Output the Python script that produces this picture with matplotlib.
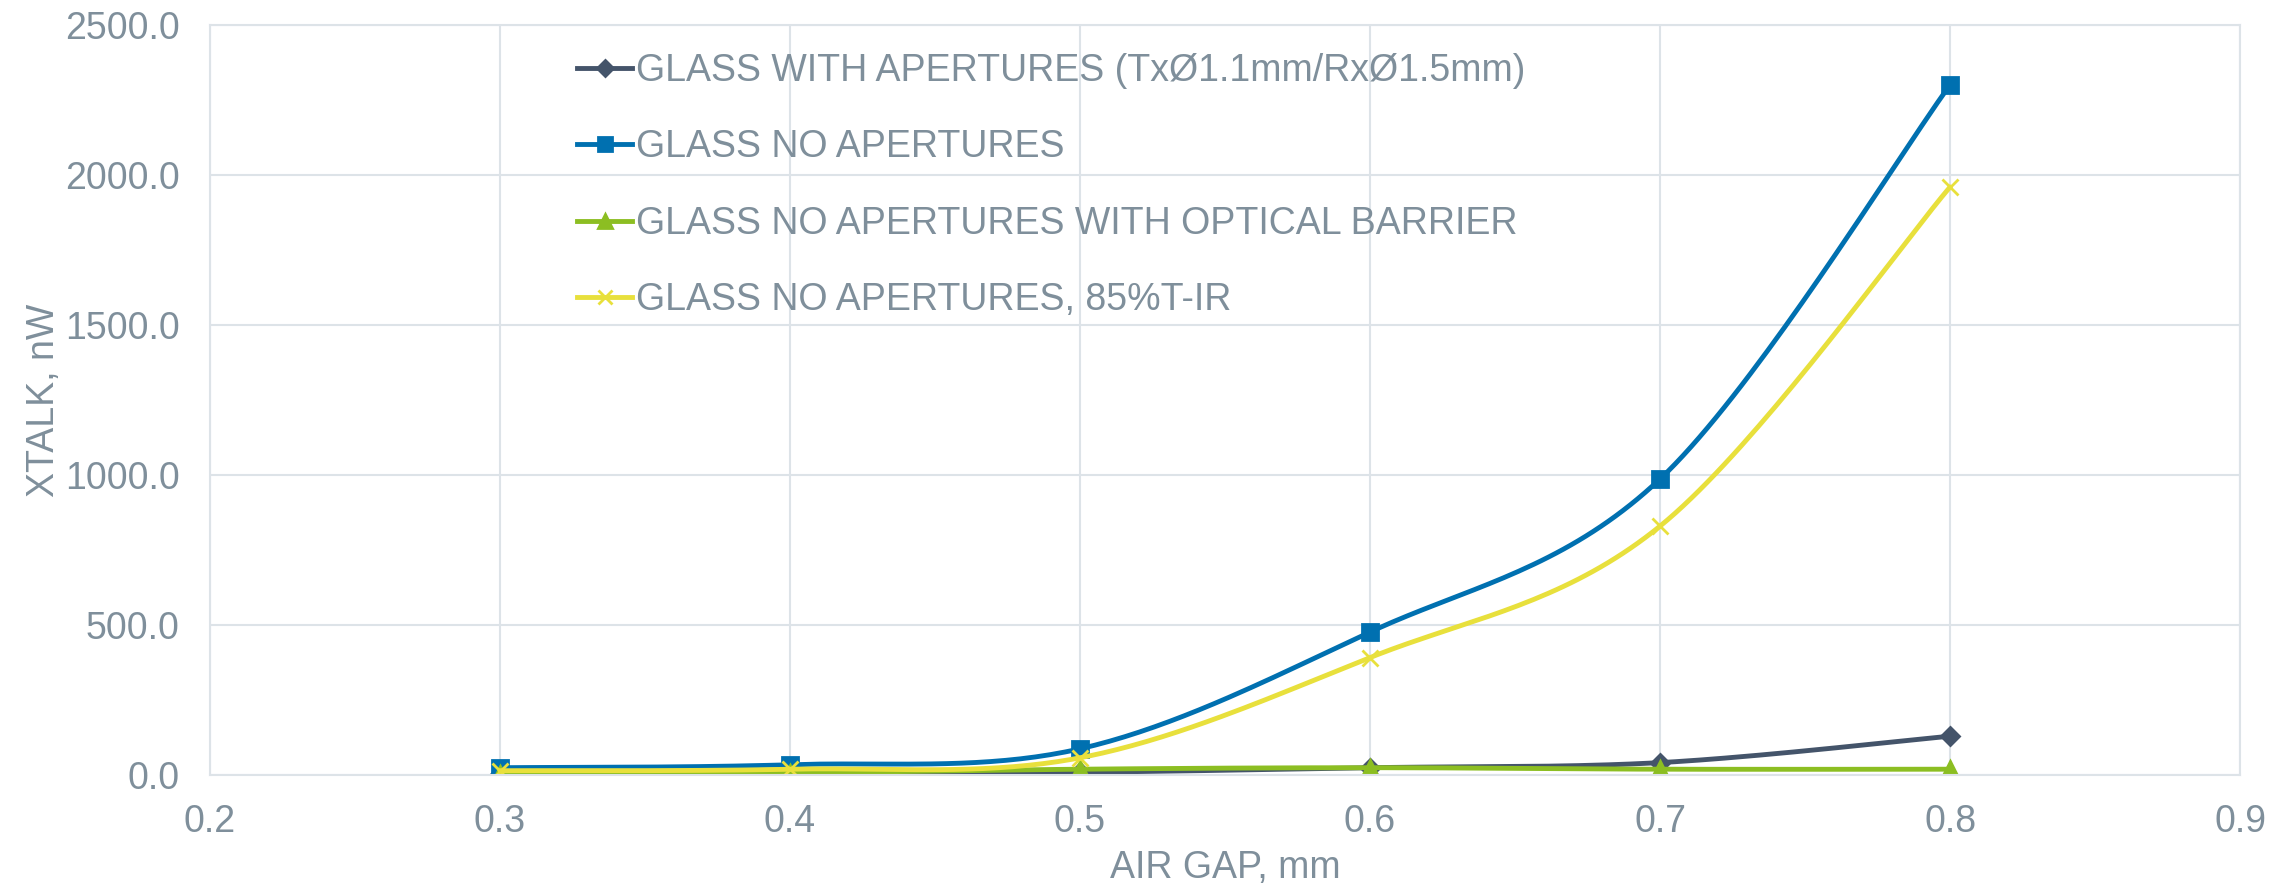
import numpy as np
import matplotlib.pyplot as plt

plt.rcParams["font.family"] = ["Liberation Sans", "DejaVu Sans"]

air_gap = [0.3, 0.4, 0.5, 0.6, 0.7, 0.8]
with_apertures = [5, 8, 10, 25, 42, 130]
no_apertures = [25, 35, 88, 477, 987, 2300]
optical_barrier = [5, 8, 20, 25, 20, 20]
ir_85 = [15, 20, 58, 392, 830, 1960]

labels = [
    "GLASS WITH APERTURES (TxØ1.1mm/RxØ1.5mm)",
    "GLASS NO APERTURES",
    "GLASS NO APERTURES WITH OPTICAL BARRIER",
    "GLASS NO APERTURES, 85%T-IR",
]
colors = ["#44546A", "#0070B0", "#8CBE22", "#E8E03C"]
markers = ["D", "s", "^", "x"]
msizes = [9, 12, 12, 12]

TEXT = "#7F8F9B"
GRID = "#DDE3E8"


def smooth(x, y, n=40):
    # bezier segments with control points from neighbouring points
    x = np.asarray(x, float)
    y = np.asarray(y, float)
    px = np.concatenate([[x[0]], x, [x[-1]]])
    py = np.concatenate([[y[0]], y, [y[-1]]])
    xs, ys = [], []
    t = np.linspace(0, 1, n)
    for i in range(1, len(px) - 2):
        p0 = np.array([px[i], py[i]])
        p3 = np.array([px[i + 1], py[i + 1]])
        p1 = p0 + (np.array([px[i + 1], py[i + 1]]) - np.array([px[i - 1], py[i - 1]])) / 6
        p2 = p3 - (np.array([px[i + 2], py[i + 2]]) - np.array([px[i], py[i]])) / 6
        b = ((1 - t) ** 3)[:, None] * p0 + (3 * (1 - t) ** 2 * t)[:, None] * p1 \
            + (3 * (1 - t) * t ** 2)[:, None] * p2 + (t ** 3)[:, None] * p3
        xs.append(b[:, 0])
        ys.append(b[:, 1])
    return np.concatenate(xs), np.concatenate(ys)


fig = plt.figure(figsize=(22.9, 8.89), dpi=100)
ax = fig.add_axes([0.0917, 0.128, 0.8865, 0.844])

series = [with_apertures, no_apertures, optical_barrier, ir_85]
for vals, lab, c, m, ms in zip(series, labels, colors, markers, msizes):
    sx, sy = smooth(air_gap, vals)
    ax.plot(sx, sy, color=c, lw=3.5, solid_capstyle="round")
    ax.plot(air_gap, vals, ls="none", marker=m, color=c, ms=ms, mew=2)
    ax.plot([], [], color=c, lw=3.5, marker=m, ms=ms * 0.85, mew=2, label=lab)

ax.set_xlim(0.2, 0.9)
ax.set_ylim(0, 2500)
ax.set_xticks(np.arange(0.2, 0.91, 0.1))
ax.set_yticks(np.arange(0, 2501, 500))
ax.set_xticklabels([f"{v:.1f}" for v in np.arange(0.2, 0.91, 0.1)])
ax.set_yticklabels([f"{v:.1f}" for v in np.arange(0, 2501, 500)])
ax.grid(True, color=GRID, lw=1.5)
ax.set_axisbelow(True)
for s in ax.spines.values():
    s.set_color(GRID)
    s.set_linewidth(1.5)
ax.tick_params(length=0, labelsize=27, colors=TEXT)
ax.tick_params(axis="y", pad=22)
ax.tick_params(axis="x", pad=21)
ax.set_xlabel("AIR GAP, mm", fontsize=27, color=TEXT, labelpad=7)
ax.set_ylabel("XTALK, nW", fontsize=27, color=TEXT, labelpad=2)

leg = ax.legend(loc="upper left", bbox_to_anchor=(0.181, 0.963), frameon=False,
                fontsize=27, labelcolor=TEXT, handlelength=1.45, handletextpad=0.1,
                labelspacing=1.08, borderaxespad=0, borderpad=0)

fig.savefig("out.png", dpi=100)
